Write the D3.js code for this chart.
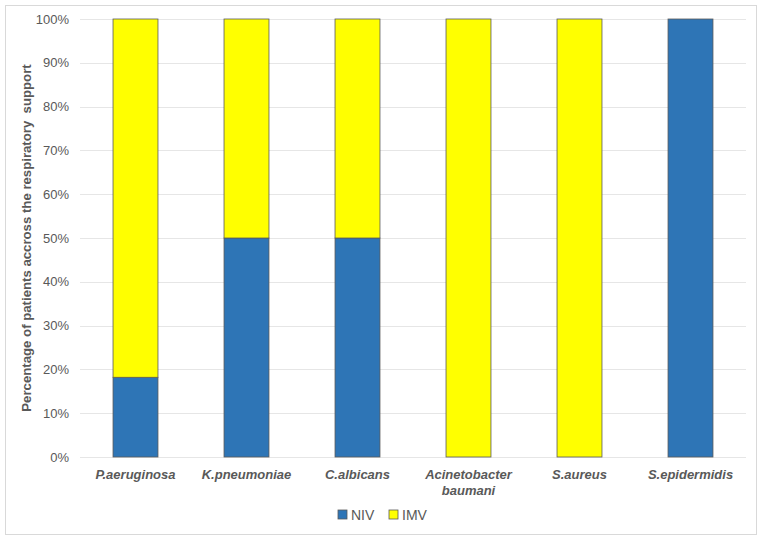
<!DOCTYPE html>
<html lang="en">
<head>
  <meta charset="UTF-8">
  <title>respiratory support</title>
  <style>
    * { padding: 0; margin: 0; }
    body { background: #fff; }
    text { font-family: "Liberation Sans", Arial, sans-serif; }
  </style>
</head>
<body>
  <script src="https://d3js.org/d3.v7.min.js"></script>
  <script>
    const width = 763;
    const height = 541;

    const categories = ['P.aeruginosa', 'K.pneumoniae', 'C.albicans', 'Acinetobacter baumani', 'S.aureus', 'S.epidermidis'];
    const niv = [18.2, 50, 50, 0, 0, 100];
    const imv = [81.8, 50, 50, 100, 100, 0];
    const yTicks = [0, 10, 20, 30, 40, 50, 60, 70, 80, 90, 100];
    const seriesNames = ['NIV', 'IMV'];
    const colors = ['#2E75B6', '#FFFF00'];

    const margin = { top: 19, right: 17, bottom: 84, left: 80 };

    const svg = d3.select('body')
      .append('svg')
      .attr('width', width)
      .attr('height', height);

    // chart border
    svg.append('rect')
      .attr('x', 5.5)
      .attr('y', 5.5)
      .attr('width', 751)
      .attr('height', 529)
      .attr('fill', '#fff')
      .attr('stroke', '#d9d9d9');

    const x = d3.scaleBand()
      .domain(categories)
      .range([margin.left, width - margin.right])
      .paddingInner(0.595)
      .paddingOuter(0.2975);

    const y = d3.scaleLinear()
      .domain([0, 100])
      .range([height - margin.bottom, margin.top]);

    // gridlines
    svg.append('g')
      .selectAll('line')
      .data(yTicks)
      .join('line')
      .attr('x1', margin.left)
      .attr('x2', width - margin.right)
      .attr('y1', d => Math.round(y(d)) + 0.5)
      .attr('y2', d => Math.round(y(d)) + 0.5)
      .attr('stroke', '#e6e6e6');

    // y axis labels
    const yAxis = svg.append('g')
      .attr('transform', `translate(${margin.left},0)`)
      .call(d3.axisLeft(y).tickValues(yTicks).tickFormat(d => d + '%').tickSize(0).tickPadding(11));
    yAxis.select('.domain').remove();
    yAxis.selectAll('text')
      .attr('fill', '#595959')
      .style('font-size', '13px');

    const rows = categories.map((c, i) => ({ cat: c, values: [niv[i], imv[i]] }));
    const stack = d3.stack().keys([0, 1]).value((d, k) => d.values[k]);
    const stacked = stack(rows);

    svg.append('g')
      .selectAll('g')
      .data(stacked)
      .join('g')
      .attr('fill', (d, i) => colors[i])
      .selectAll('rect')
      .data(d => d.filter(p => p[1] - p[0] > 0))
      .join('rect')
      .attr('x', d => x(d.data.cat))
      .attr('y', d => y(d[1]))
      .attr('width', x.bandwidth())
      .attr('height', d => y(d[0]) - y(d[1]))
      .attr('stroke', '#5a5a5a')
      .attr('stroke-width', 0.8);

    // x labels
    const xl = svg.append('g')
      .selectAll('text')
      .data(categories)
      .join('text')
      .attr('x', d => x(d) + x.bandwidth() / 2)
      .attr('y', height - margin.bottom + 22)
      .attr('text-anchor', 'middle')
      .attr('fill', '#595959')
      .style('font-size', '13px')
      .style('font-weight', 'bold')
      .style('font-style', 'italic');
    xl.each(function (d) {
      const parts = d === 'Acinetobacter baumani' ? ['Acinetobacter', 'baumani'] : [d];
      d3.select(this).selectAll('tspan')
        .data(parts)
        .join('tspan')
        .attr('x', x(d) + x.bandwidth() / 2)
        .attr('dy', (p, i) => i === 0 ? 0 : 16)
        .text(p => p);
    });

    // y axis title
    svg.append('text')
      .attr('transform', `translate(31,${(margin.top + height - margin.bottom) / 2}) rotate(-90)`)
      .attr('text-anchor', 'middle')
      .attr('fill', '#595959')
      .style('font-size', '13.2px')
      .style('font-weight', 'bold')
      .style('white-space', 'pre')
      .text('Percentage of patients accross the respiratory  support');

    // legend
    const legend = svg.append('g')
      .selectAll('g')
      .data(seriesNames)
      .join('g')
      .attr('transform', (d, i) => `translate(${338 + i * 51},510)`);
    legend.append('rect')
      .attr('width', 9)
      .attr('height', 9)
      .attr('fill', (d, i) => colors[i])
      .attr('stroke', '#5a5a5a')
      .attr('stroke-width', 0.8);
    legend.append('text')
      .attr('x', 13)
      .attr('y', 9.5)
      .attr('fill', '#595959')
      .style('font-size', '14px')
      .text(d => d);
  </script>
</body>
</html>
